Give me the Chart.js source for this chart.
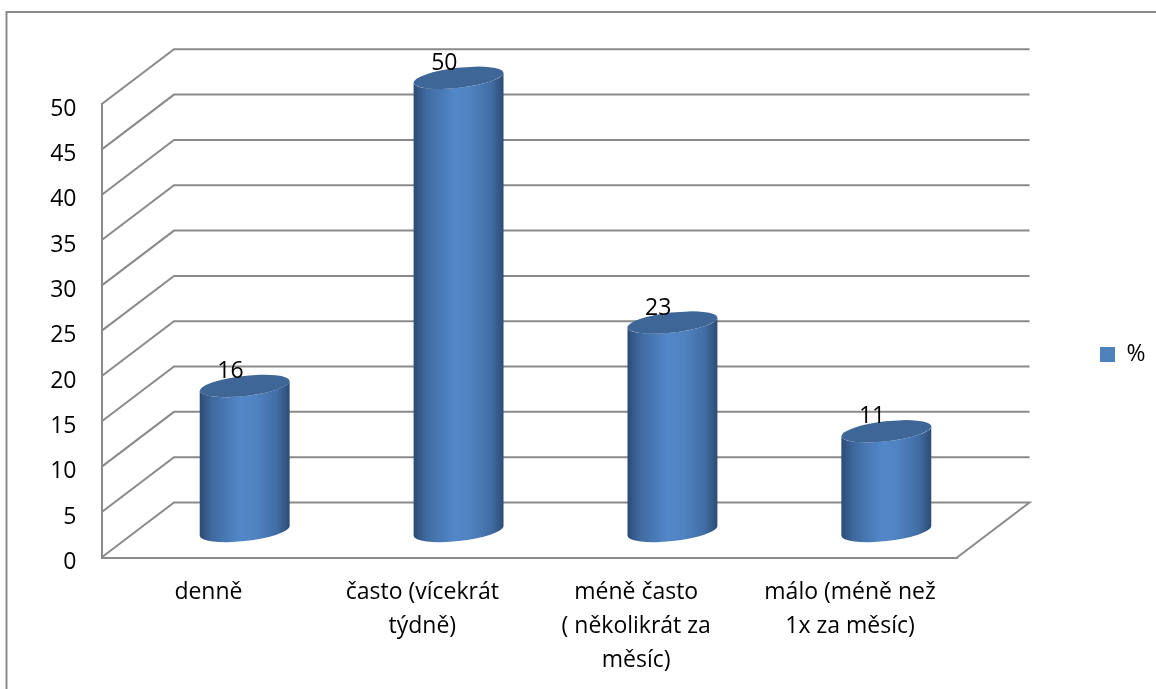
<!DOCTYPE html>
<html>
<head>
<meta charset="utf-8">
<title>Graf</title>
<script src="https://cdn.jsdelivr.net/npm/chart.js@4/dist/chart.umd.min.js"></script>
<style>
    html, body { margin: 0; padding: 0; background: #fff; overflow: hidden; }
    canvas { display: block; }
</style>
</head>
<body>
<canvas id="chart" width="1156" height="689"></canvas>
<script>
const categories = [
    'denně',
    ['často (vícekrát', 'týdně)'],
    ['méně často', '( několikrát za', 'měsíc)'],
    ['málo (méně než', '1x za měsíc)']
];
const seriesName = '%';
const seriesValues = [16, 50, 23, 11];
const tickStep = 5;
const tickMax = 50;

const FONT = { family: '"Open Sans", sans-serif', size: 23 };
const LINE = '#8a8a8a';
// offset between the front edge of the floor and the back wall
const DEPTH_X = 72.5;
const DEPTH_Y = 55;
const TILT = -6.5 * Math.PI / 180;

// Walls, floor and outer frame, drawn behind the cylinders
const wallsPlugin = {
    id: 'walls',
    beforeDatasetsDraw(chart) {
        const { ctx, chartArea, scales } = chart;
        const y = scales.y;
        ctx.save();
        ctx.strokeStyle = LINE;
        ctx.lineWidth = 2;

        ctx.beginPath();
        ctx.moveTo(6.5, chart.height);
        ctx.lineTo(6.5, 12);
        ctx.lineTo(chart.width, 12);
        ctx.stroke();

        y.ticks.forEach(tick => {
            const py = y.getPixelForValue(tick.value);
            ctx.beginPath();
            ctx.moveTo(chartArea.left, py);
            ctx.lineTo(chartArea.left + DEPTH_X, py - DEPTH_Y);
            ctx.lineTo(chartArea.right + DEPTH_X, py - DEPTH_Y);
            if (tick.value === 0) ctx.lineTo(chartArea.right, py);
            ctx.stroke();
        });
        ctx.restore();
    }
};

// Replaces the flat bars with tilted cylinders standing mid-way on the floor
const cylinderPlugin = {
    id: 'cylinders',
    beforeDatasetDraw(chart, args) {
        const { ctx } = chart;
        chart.getDatasetMeta(args.index).data.forEach(bar => {
            const a = bar.width / 2;
            const b = 10;
            const cx = bar.x + DEPTH_X / 2;
            const topY = bar.y - DEPTH_Y / 2 + 1;
            const baseY = bar.base - DEPTH_Y / 2 + 1;
            // angle where the rotated ellipse meets its vertical tangent
            const t0 = Math.atan2(-b * Math.sin(TILT), a * Math.cos(TILT));

            const body = ctx.createLinearGradient(cx - a, 0, cx + a, 0);
            body.addColorStop(0, '#2c4a74');
            body.addColorStop(0.14, '#3f6aa0');
            body.addColorStop(0.45, '#5287c8');
            body.addColorStop(0.62, '#5083c2');
            body.addColorStop(0.86, '#416da4');
            body.addColorStop(1, '#2d4b75');

            ctx.save();
            ctx.fillStyle = body;
            ctx.beginPath();
            ctx.ellipse(cx, baseY, a, b, TILT, t0, t0 + Math.PI);
            ctx.ellipse(cx, topY, a, b, TILT, t0 + Math.PI, t0, true);
            ctx.closePath();
            ctx.fill();

            ctx.fillStyle = '#3e6797';
            ctx.beginPath();
            ctx.ellipse(cx, topY, a, b, TILT, 0, Math.PI * 2);
            ctx.fill();
            ctx.restore();
        });
        return false;
    },
    afterDatasetsDraw(chart) {
        const { ctx } = chart;
        const dataset = chart.data.datasets[0];
        ctx.save();
        ctx.font = `${FONT.size}px ${FONT.family}`;
        ctx.fillStyle = '#000';
        ctx.textAlign = 'center';
        ctx.textBaseline = 'middle';
        chart.getDatasetMeta(0).data.forEach((bar, i) => {
            ctx.fillText(String(dataset.data[i]), bar.x + 22, bar.y - 41);
        });
        ctx.restore();
    }
};

// The legend lives in the chart area box so it takes no width from the plot; move it out to the right
const legendSpotPlugin = {
    id: 'legendSpot',
    afterLayout(chart) {
        const lg = chart.legend;
        lg.left = 1090;
        lg.right = 1156;
        lg.top = 333;
        lg.bottom = 373;
        lg.width = lg.right - lg.left;
        lg.height = lg.bottom - lg.top;
    }
};

new Chart(document.getElementById('chart').getContext('2d'), {
    type: 'bar',
    data: {
        labels: categories,
        datasets: [{
            label: seriesName,
            data: seriesValues,
            backgroundColor: '#4f81bd',
            barPercentage: 0.423,
            categoryPercentage: 1
        }]
    },
    options: {
        responsive: false,
        animation: false,
        layout: { padding: { left: 0, top: 104.3, right: 199, bottom: 0 } },
        plugins: {
            tooltip: { enabled: false },
            legend: {
                position: 'chartArea',
                align: 'start',
                labels: {
                    boxWidth: 15,
                    boxHeight: 15,
                    padding: 10,
                    color: '#000',
                    font: FONT
                }
            }
        },
        scales: {
            x: {
                grid: { display: false, drawTicks: false },
                border: { color: LINE, width: 2 },
                ticks: {
                    color: '#000',
                    font: { ...FONT, lineHeight: 1.47 },
                    padding: 18,
                    maxRotation: 0,
                    autoSkip: false
                },
                afterFit(scale) { scale.height = 131.5; }
            },
            y: {
                min: 0,
                max: tickMax,
                grid: { display: false, drawTicks: false },
                border: { color: LINE, width: 2 },
                ticks: {
                    stepSize: tickStep,
                    color: '#000',
                    font: FONT,
                    padding: 25,
                    labelOffset: 5
                },
                afterFit(scale) { scale.width = 101.5; }
            }
        }
    },
    plugins: [wallsPlugin, cylinderPlugin, legendSpotPlugin]
});
</script>
</body>
</html>
